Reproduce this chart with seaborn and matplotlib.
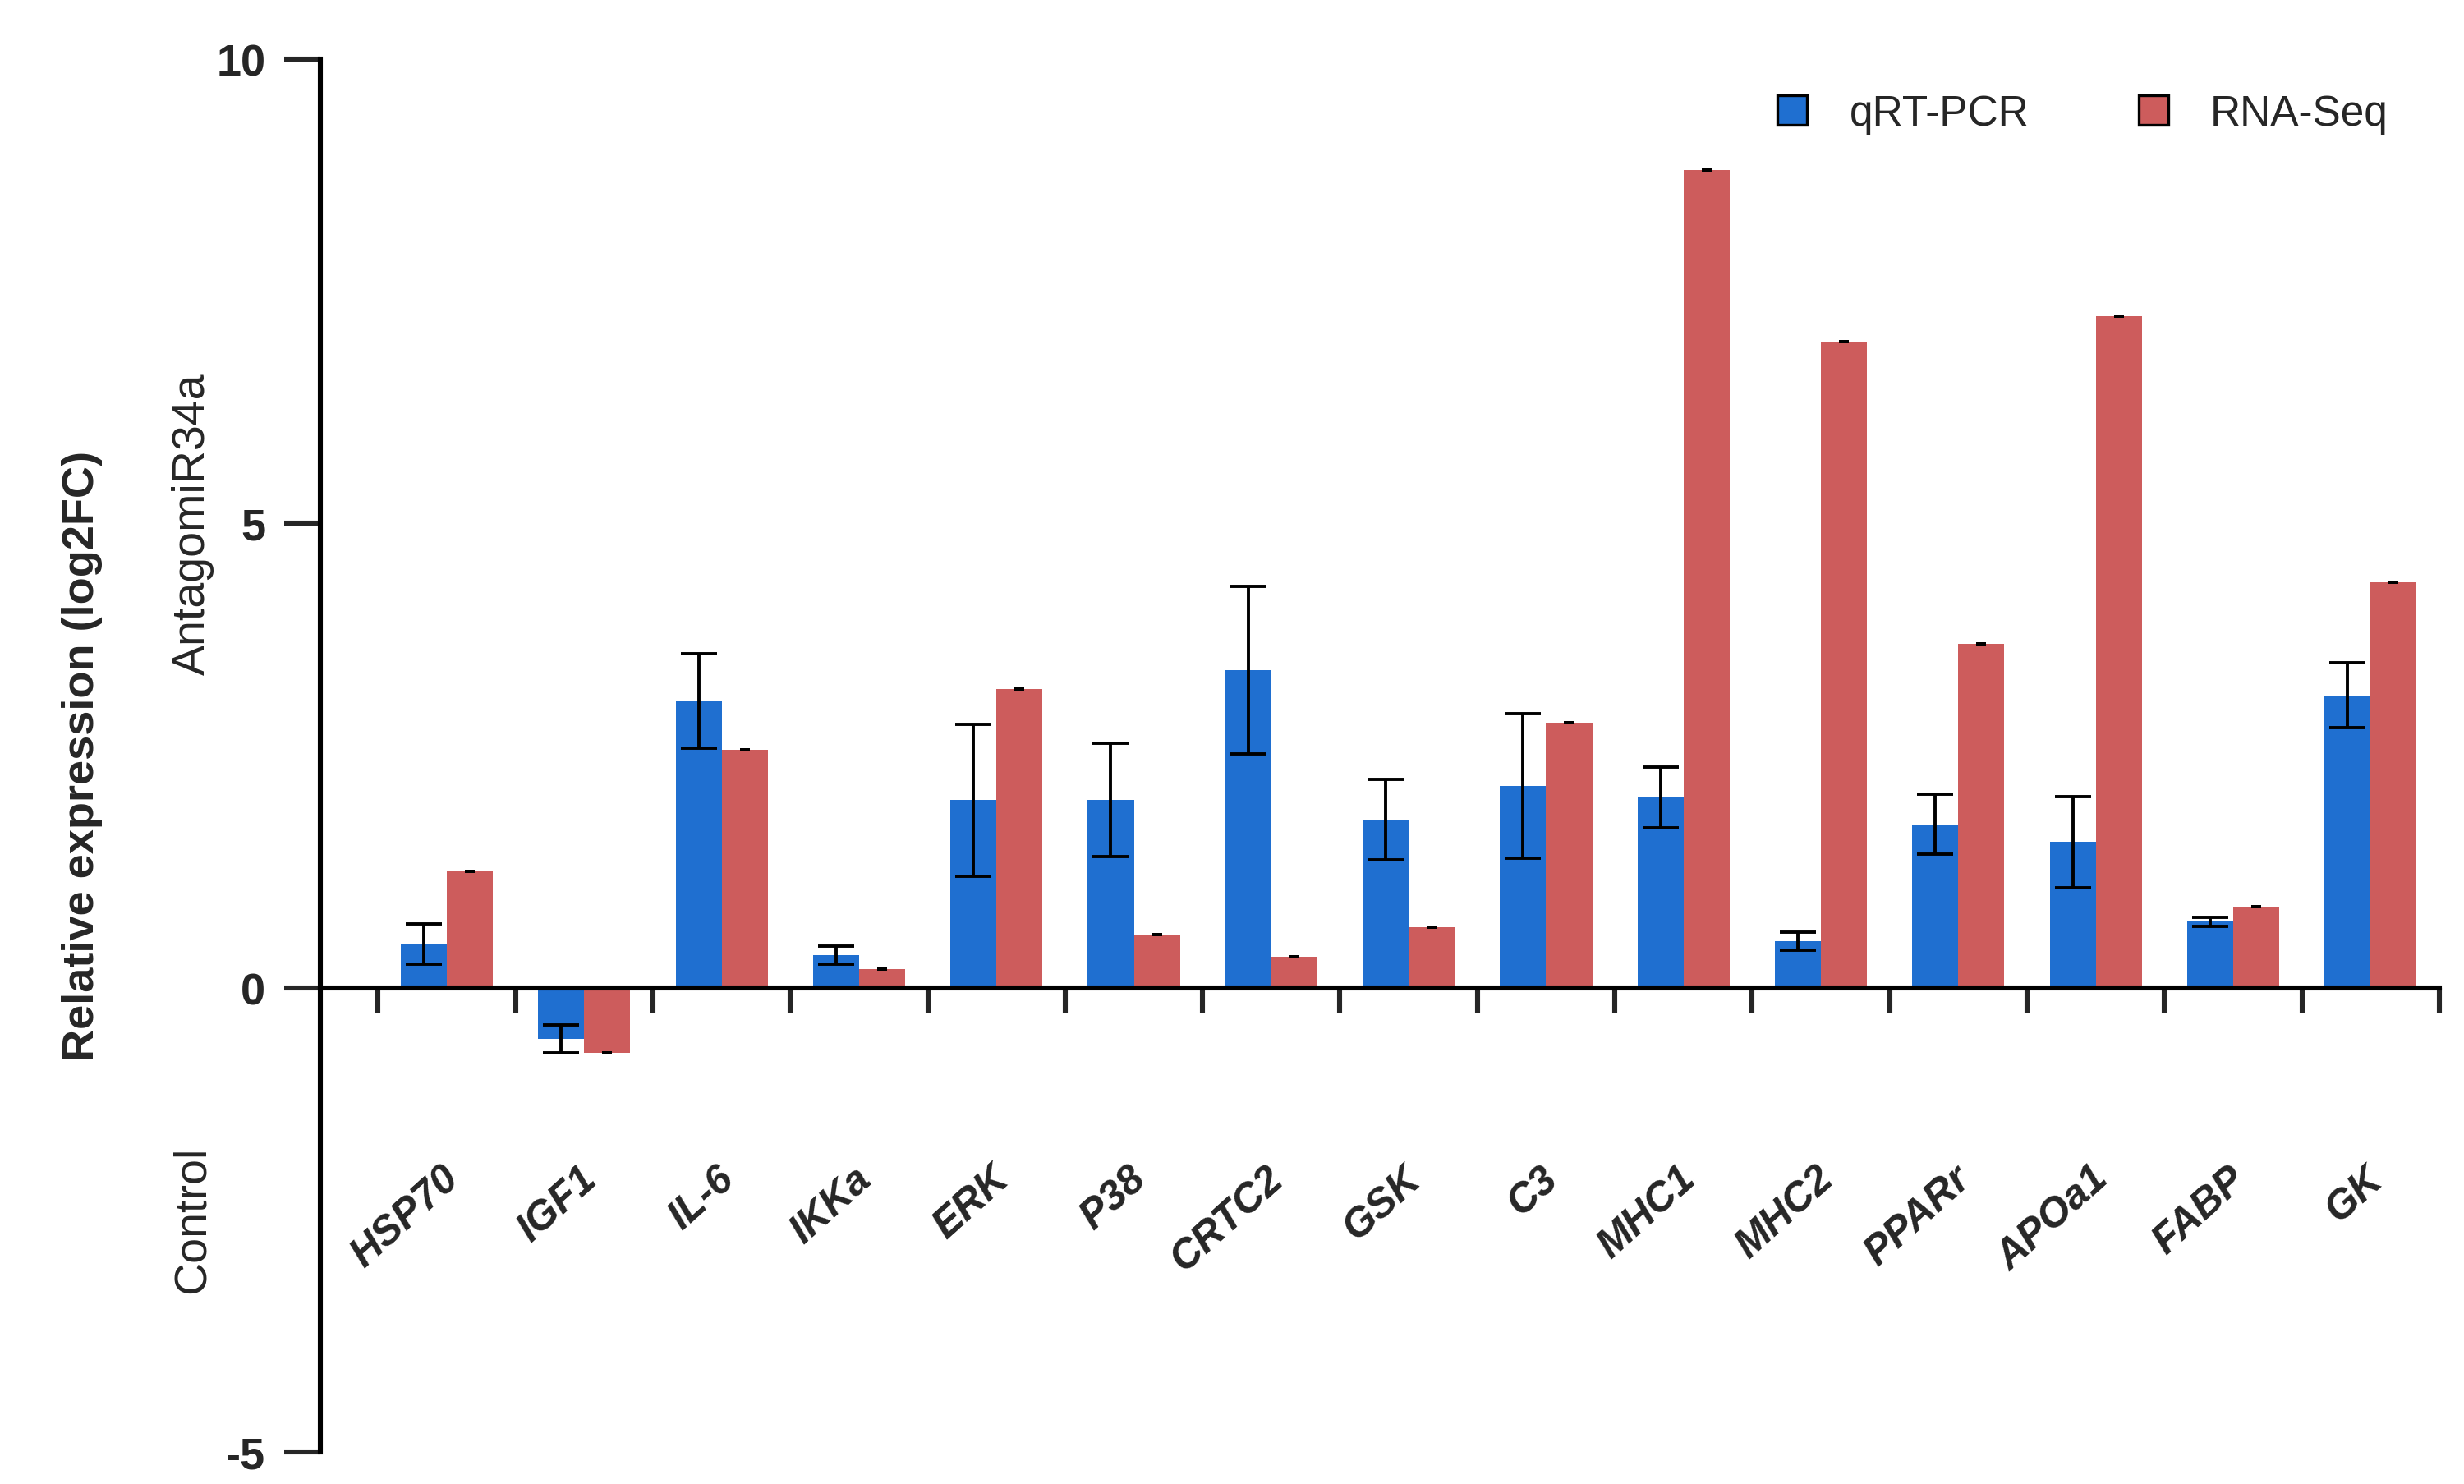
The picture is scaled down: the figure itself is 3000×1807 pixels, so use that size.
import numpy as np
import pandas as pd
import seaborn as sns
import matplotlib.pyplot as plt
from matplotlib.patches import Patch

# values
genes = ['HSP70', 'IGF1', 'IL-6', 'IKKa', 'ERK', 'P38', 'CRTC2', 'GSK',
         'C3', 'MHC1', 'MHC2', 'PPARr', 'APOa1', 'FABP', 'GK']
qrt_pcr = [0.47, -0.55, 3.09, 0.35, 2.02, 2.02, 3.42, 1.81,
           2.17, 2.05, 0.50, 1.76, 1.57, 0.71, 3.15]
qrt_err = [0.22, 0.15, 0.51, 0.10, 0.82, 0.61, 0.90, 0.43,
           0.78, 0.33, 0.10, 0.32, 0.49, 0.05, 0.35]
rna_seq = [1.25, -0.70, 2.56, 0.20, 3.22, 0.57, 0.33, 0.65,
           2.85, 8.81, 6.96, 3.70, 7.23, 0.87, 4.37]
rna_err = [0.0] * len(genes)

methods = ['qRT-PCR', 'RNA-Seq']
colors = ['#1f6fd0', '#cd5c5c']

df = pd.DataFrame({
    'gene': genes * 2,
    'value': qrt_pcr + rna_seq,
    'method': [methods[0]] * len(genes) + [methods[1]] * len(genes),
})

sns.set_style('ticks')
plt.rcParams['font.family'] = ['Liberation Sans', 'DejaVu Sans']

fig = plt.figure(figsize=(15, 9.04), dpi=200)
ax = fig.add_axes([0.13, 0.0216, 0.86, 0.938])

sns.barplot(data=df, x='gene', y='value', hue='method', order=genes,
            hue_order=methods, palette=colors, width=0.67, errorbar=None,
            saturation=1, linewidth=0, ax=ax, legend=False)

# error bars on top of the bars
for cont, errs, cap in zip(ax.containers, [qrt_err, rna_err], [8, 2]):
    xs = [b.get_x() + b.get_width() / 2 for b in cont]
    ys = [b.get_y() + b.get_height() for b in cont]
    ax.errorbar(xs, ys, yerr=errs, fmt='none', ecolor='black',
                elinewidth=1.4, capsize=cap, capthick=1.4, zorder=5)

# axes styling
ax.set_xlim(-0.92, 14.5)
ax.set_ylim(-5, 10)
sns.despine(ax=ax)
ax.spines['bottom'].set_position(('data', 0))
for s in ['left', 'bottom']:
    ax.spines[s].set_linewidth(2.2)
    ax.spines[s].set_color('black')

ax.set_yticks([-5, 0, 5, 10])
ax.set_yticklabels(['-5', '0', '5', '10'], fontsize=19.5, fontweight='bold')
ax.tick_params(axis='y', length=16, width=2.2, direction='out', pad=8)

ax.set_xticks(np.arange(-0.5, len(genes), 1.0))
ax.set_xticklabels([])
ax.tick_params(axis='x', length=11, width=2.2, direction='out')
ax.set_xlabel('')
ax.set_ylabel('')

for i, g in enumerate(genes):
    ax.text(i + 0.05, -2.0, g, rotation=42, rotation_mode='anchor',
            ha='right', va='center', fontsize=18, fontweight='bold',
            fontstyle='italic')

# side labels
fig.text(100 / 3000, 1 - 920 / 1808, 'Relative expression (log2FC)',
         rotation=90, ha='center', va='center', fontsize=19.5,
         fontweight='bold')
fig.text(235 / 3000, 1 - 638 / 1808, 'AntagomiR34a', rotation=90,
         ha='center', va='center', fontsize=20)
fig.text(235 / 3000, 1 - 1485 / 1808, 'Control', rotation=90,
         ha='center', va='center', fontsize=20)

handles = [Patch(facecolor=c, edgecolor='black', linewidth=1.2) for c in colors]
ax.legend(handles, methods, loc='upper right', bbox_to_anchor=(0.976, 0.975),
          ncol=2, frameon=False, fontsize=18.5, handlelength=0.7,
          handleheight=0.7, handletextpad=1.0, columnspacing=2.6,
          borderpad=0, borderaxespad=0)

fig.savefig('out.png', dpi=200)
